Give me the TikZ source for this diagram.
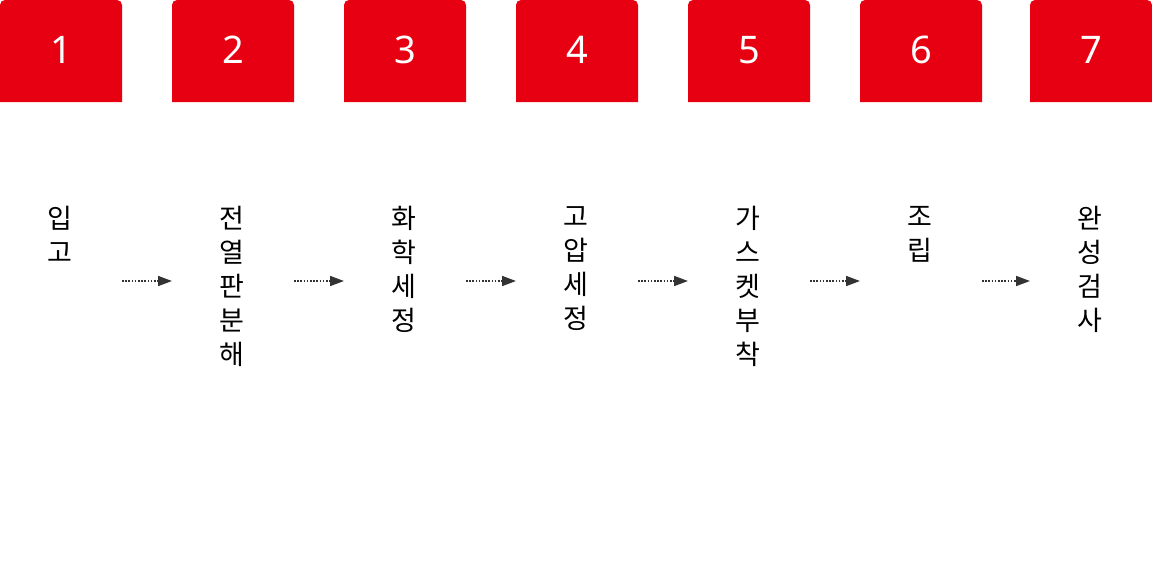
\documentclass[tikz,border=0pt]{standalone}
\usepackage{fontspec}
\setmainfont{Noto Sans}
\newfontfamily\kr{Noto Sans CJK KR}
\usetikzlibrary{arrows.meta}
\definecolor{boxred}{HTML}{E60012}
\definecolor{arrgray}{HTML}{333333}
\begin{document}
\begin{tikzpicture}[x=1pt,y=-1pt,
  stepbox/.style={fill=boxred, rounded corners=5pt},
  numtext/.style={text=white, font=\fontsize{38}{40}\selectfont},
  label/.style={anchor=north, align=center, inner sep=0pt, font=\kr\fontsize{27}{34}\selectfont, text=black},
  flow/.style={draw=arrgray, line width=1.6pt, dash pattern=on 1.6pt off 1.6pt, -{Triangle[length=14pt,width=10pt]}}]
\useasboundingbox (0,0) rectangle (1152,560);
\foreach \i/\L/\t in {1/0/{입\\고},2/172/{전\\열\\판\\분\\해},3/344/{화\\학\\세\\정},4/516/{고\\압\\세\\정},5/688/{가\\스\\켓\\부\\착},6/860/{조\\립},7/1030/{완\\성\\검\\사}}{
  \path[stepbox] (\L,102) -- (\L,0) -- (\L+122,0) [sharp corners] -- (\L+122,102) -- cycle;
  \path[fill=boxred] (\L,60) rectangle (\L+122,102);
  \node[numtext] (n\i) at (\L+61,50) {\i};
  \node[label] (t\i) at (\L+60,206) {\t};
  \coordinate (s\i) at (\L+122,281);
  \coordinate (e\i) at (\L,281);
}
\foreach \a/\b in {1/2,2/3,3/4,4/5,5/6,6/7}{
  \draw[flow] (s\a) -- (e\b);
}
\end{tikzpicture}
\end{document}
